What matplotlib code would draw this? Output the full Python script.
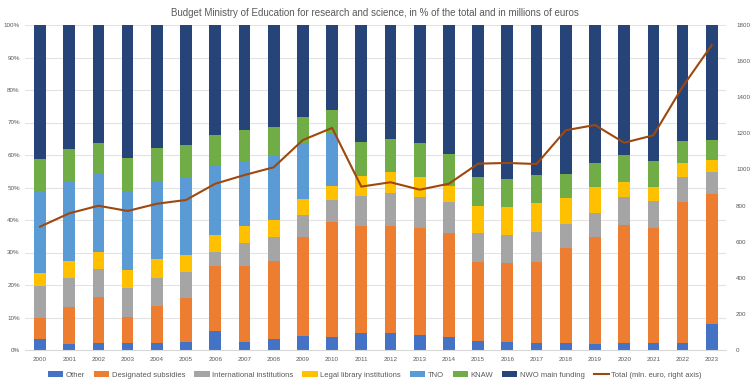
import matplotlib
matplotlib.use("Agg")
import matplotlib.pyplot as plt
import numpy as np

years = [str(y) for y in range(2000, 2024)]

# cumulative tops (% of total)
other_top = [3.3, 1.8, 2.3, 2.3, 2.3, 2.6, 5.8, 2.6, 3.4, 4.3, 4.1, 5.1, 5.1, 4.7, 3.9, 2.8, 2.5, 2.3, 2.1, 1.9, 2.3, 2.1, 2.1, 7.9]
desig_top = [9.9, 13.3, 16.4, 10.3, 13.6, 15.9, 25.9, 25.8, 27.4, 34.7, 39.5, 38.3, 38.3, 37.6, 36.0, 27.0, 26.7, 27.0, 31.4, 34.7, 38.6, 37.4, 45.6, 48.1]
intl_top = [19.7, 22.3, 24.9, 19.2, 22.3, 23.9, 30.3, 33.0, 34.7, 41.6, 46.2, 47.5, 48.2, 47.2, 45.4, 35.9, 35.4, 36.2, 38.9, 42.2, 47.1, 45.8, 53.2, 54.9]
legal_top = [23.8, 27.5, 30.1, 24.6, 28.0, 29.3, 35.5, 38.3, 40.0, 46.5, 50.6, 53.6, 54.7, 53.2, 50.5, 44.4, 43.9, 45.2, 46.7, 50.2, 51.6, 50.2, 57.4, 58.5]
tno_top = [48.9, 52.0, 54.3, 48.9, 51.9, 52.8, 56.9, 58.2, 59.7, 63.7, 66.4, 53.6, 54.7, 53.2, 50.5, 44.4, 43.9, 45.2, 46.7, 50.2, 51.6, 50.2, 57.4, 58.5]
knaw_top = [58.8, 61.8, 63.7, 59.2, 62.3, 63.2, 66.3, 67.7, 68.7, 71.8, 73.8, 63.9, 64.8, 63.7, 60.3, 53.1, 52.6, 53.8, 54.1, 57.5, 59.9, 58.3, 64.4, 64.7]
total = [683, 757, 799, 770, 810, 831, 921, 969, 1012, 1163, 1230, 905, 929, 888, 921, 1032, 1036, 1030, 1217, 1246, 1148, 1189, 1458, 1689]

series_names = ["Other", "Designated subsidies", "International institutions",
                "Legal library institutions", "TNO", "KNAW", "NWO main funding"]
colors = ["#4472C4", "#ED7D31", "#A5A5A5", "#FFC000", "#5B9BD5", "#70AD47", "#264478"]
line_color = "#9E480E"
line_label = "Total (mln. euro, right axis)"

tops = [other_top, desig_top, intl_top, legal_top, tno_top, knaw_top, [100.0] * len(years)]

plt.rcParams['font.family'] = ["Liberation Sans", "DejaVu Sans"]

fig = plt.figure(figsize=(7.5, 3.87), dpi=100)
ax = fig.add_axes([25.4 / 750, 1 - 350 / 387, 701 / 750, 325 / 387])
x = np.arange(len(years))
prev = np.zeros(len(years))
handles = []
for name, col, top in zip(series_names, colors, tops):
    t = np.array(top)
    h = ax.bar(x, t - prev, bottom=prev, width=0.4, color=col, label=name, zorder=2)
    handles.append(h)
    prev = t

ax.set_xlim(-0.5, len(years) - 0.5)
ax.set_ylim(0, 100)
ax.set_yticks(np.arange(0, 101, 10))
ax.set_yticklabels([f"{v}%" for v in range(0, 101, 10)])
ax.set_xticks(x)
ax.set_xticklabels(years)
ax.grid(axis='y', color='#E3E3E3', linewidth=0.8, zorder=0)
for s in ["top", "left", "right"]:
    ax.spines[s].set_visible(False)
ax.spines["bottom"].set_color("#D9D9D9")
ax.tick_params(axis='y', length=0, labelsize=4.5, colors='#595959', pad=4)
ax.tick_params(axis='x', length=0, labelsize=4.5, colors='#595959', pad=5)

ax2 = ax.twinx()
ax2.set_ylim(0, 1800)
ax2.set_yticks(np.arange(0, 1801, 200))
ln, = ax2.plot(x, total, color=line_color, linewidth=1.5, label=line_label, zorder=3)
for s in ["top", "left", "right", "bottom"]:
    ax2.spines[s].set_visible(False)
ax2.tick_params(axis='y', length=0, labelsize=4.5, colors='#595959', pad=7)

fig.text(0.5, 1 - 13 / 387, "Budget Ministry of Education for research and science, in % of the total and in millions of euros",
         ha='center', va='center', fontsize=7.0, color='#595959')

fig.legend(handles + [ln], series_names + [line_label],
           loc='center', bbox_to_anchor=(0.5, 1 - 375 / 387), ncol=8, frameon=False,
           fontsize=5.5, labelcolor='#595959', handlelength=2.0, handleheight=0.9,
           handletextpad=0.3, columnspacing=1.2)

fig.savefig("out.png", dpi=100)
